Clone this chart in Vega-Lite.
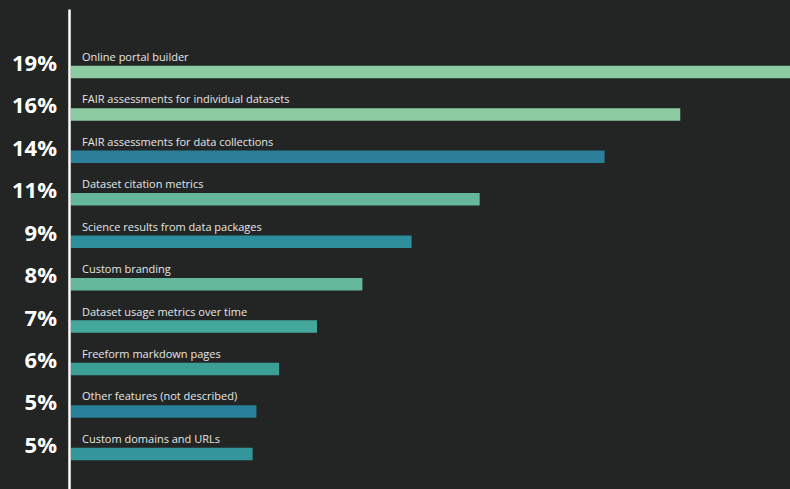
{
  "$schema": "https://vega.github.io/schema/vega-lite/v6.json",
  "width": 719,
  "height": 480,
  "autosize": {"type": "none"},
  "padding": {"left": 71, "top": 9, "right": 0, "bottom": 0},
  "background": "#222524",
  "config": {"view": {"stroke": null}},
  "data": {
    "values": [
      {"feature": "Online portal builder", "value": 19.0, "pct": "19%"},
      {"feature": "FAIR assessments for individual datasets", "value": 16.1, "pct": "16%"},
      {"feature": "FAIR assessments for data collections", "value": 14.1, "pct": "14%"},
      {"feature": "Dataset citation metrics", "value": 10.8, "pct": "11%"},
      {"feature": "Science results from data packages", "value": 9.0, "pct": "9%"},
      {"feature": "Custom branding", "value": 7.7, "pct": "8%"},
      {"feature": "Dataset usage metrics over time", "value": 6.5, "pct": "7%"},
      {"feature": "Freeform markdown pages", "value": 5.5, "pct": "6%"},
      {"feature": "Other features (not described)", "value": 4.9, "pct": "5%"},
      {"feature": "Custom domains and URLs", "value": 4.8, "pct": "5%"}
    ]
  },
  "encoding": {
    "y": {
      "field": "feature",
      "type": "nominal",
      "sort": null,
      "scale": {"type": "band", "paddingInner": 0, "paddingOuter": 0.655, "align": 0.751},
      "axis": {"labels": false, "ticks": false, "title": null, "domain": true, "domainColor": "#ffffff", "domainWidth": 2.5, "offset": 2, "grid": false}
    }
  },
  "layer": [
    {
      "mark": {"type": "bar", "height": 12.5},
      "encoding": {
        "x": {"field": "value", "type": "quantitative", "scale": {"domain": [0, 19], "nice": false}, "axis": null},
        "color": {
          "field": "feature",
          "type": "nominal",
          "legend": null,
          "scale": {
            "domain": ["Online portal builder", "FAIR assessments for individual datasets", "FAIR assessments for data collections", "Dataset citation metrics", "Science results from data packages", "Custom branding", "Dataset usage metrics over time", "Freeform markdown pages", "Other features (not described)", "Custom domains and URLs"],
            "range": ["#8dcca3", "#8dcca3", "#2b7f98", "#66b89c", "#2d8e9c", "#66b89c", "#44a89c", "#3c9f96", "#287f99", "#33969b"]
          }
        }
      }
    },
    {
      "mark": {"type": "text", "align": "left", "baseline": "alphabetic", "dx": 11, "dy": -11, "fontSize": 11, "font": "Open Sans", "color": "#e6e6e6"},
      "encoding": {
        "x": {"datum": 0},
        "text": {"field": "feature"}
      }
    },
    {
      "mark": {"type": "text", "align": "right", "baseline": "alphabetic", "dx": -14, "dy": -1, "fontSize": 22, "fontWeight": "bold", "font": "Open Sans", "color": "#ffffff"},
      "encoding": {
        "x": {"datum": 0},
        "text": {"field": "pct"}
      }
    }
  ]
}
